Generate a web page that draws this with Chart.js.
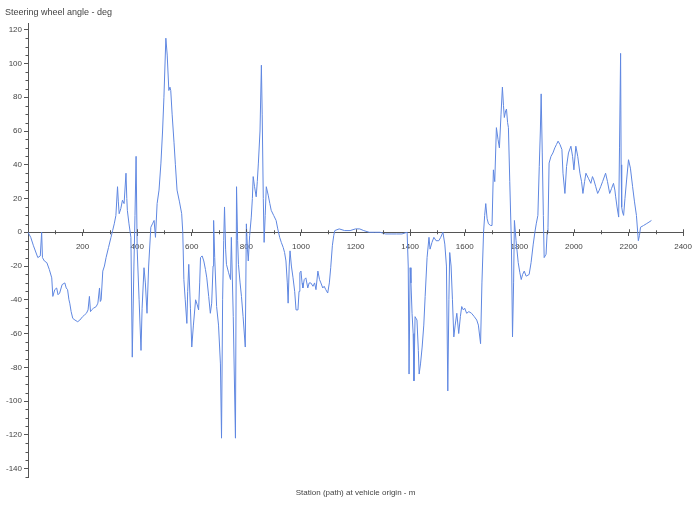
<!DOCTYPE html>
<html>
<head>
<meta charset="utf-8">
<script src="https://cdn.jsdelivr.net/npm/chart.js@4/dist/chart.umd.min.js"></script>
<style>
  html, body { margin: 0; padding: 0; background: #fff; }
  #wrap { width: 699px; height: 506px; position: relative; }
</style>
</head>
<body>
<div id="wrap"><canvas id="c"></canvas></div>
<script>
// Station (m)
const stations = [
0,10,20,36,45,50,53,60,69,78,87,91,98,105,110,116,125,135,140,145,150,153,158,164,172,182,190,200,207,214,220,225,229,233,240,250,256,262,265,268,274,280,286,295,304,310,316,322,328,331,334,340,346,352,359,362,364,370,377,382,388,392,396,400,407,414,418,425,430,436,442,450,456,462,467,473,480,487,493,498,505,510,516,520,523,528,535,540,546,555,563,567,571,576,582,585,589,595,600,606,614,620,625,629,632,638,644,650,655,662,668,673,678,680,684,691,698,705,709,713,717,720,724,727,735,742,745,752,760,764,768,771,777,782,788,796,800,804,807,812,818,822,825,830,836,840,844,850,855,858,862,865,869,873,880,886,891,900,909,915,922,928,935,940,945,950,953,957,960,965,971,977,982,989,993,996,1000,1004,1007,1012,1018,1025,1030,1036,1044,1050,1055,1062,1068,1073,1080,1085,1091,1098,1104,1109,1115,1120,1124,1140,1160,1180,1200,1215,1230,1250,1270,1290,1310,1330,1350,1370,1389,1393,1396,1400,1403,1407,1411,1414,1418,1425,1430,1433,1438,1444,1450,1455,1462,1469,1473,1480,1487,1495,1505,1512,1520,1527,1533,1538,1542,1545,1550,1555,1560,1565,1571,1578,1584,1589,1595,1600,1607,1615,1625,1635,1644,1650,1658,1663,1669,1673,1677,1682,1687,1695,1700,1705,1710,1716,1722,1727,1733,1738,1742,1745,1750,1753,1757,1760,1765,1771,1775,1779,1782,1788,1796,1802,1807,1812,1818,1825,1836,1843,1851,1857,1862,1868,1873,1877,1880,1884,1888,1891,1898,1902,1905,1909,1916,1923,1930,1936,1942,1949,1956,1960,1967,1973,1980,1989,1995,2000,2007,2014,2022,2028,2033,2039,2044,2053,2062,2068,2073,2080,2087,2093,2098,2105,2116,2123,2131,2138,2145,2150,2153,2158,2164,2167,2171,2173,2175,2178,2182,2187,2193,2200,2207,2215,2222,2229,2236,2240,2244,2255,2265,2275,2284
];
// Steering wheel angle (deg)
const angles = [
0,-3,-8,-15,-14,0,-15,-17,-18,-22,-27,-38,-34,-33,-37,-36,-31,-30,-33,-34,-40,-42,-47,-51,-52,-53,-52,-50,-49,-48,-46,-38,-47,-46,-45,-44,-42,-33,-41,-40,-23,-20,-15,-9,-3,1,5,10,27,18,11,14,19,17,35,20,13,5,-3,-74,-20,10,45,-10,-40,-70,-45,-21,-30,-48,-20,3,5,7,-3,17,25,41,60,80,115,105,84,86,84,70,53,40,25,18,11,0,-28,-40,-54,-35,-19,-45,-68,-55,-40,-43,-46,-30,-15,-14,-17,-22,-27,-38,-48,-42,-20,7,-15,-44,-55,-78,-122,-40,-5,15,-10,-19,-24,-28,-3,-50,-122,27,-5,-19,-30,-38,-50,-68,5,-10,-17,-2,9,20,33,27,21,30,41,60,99,70,20,-6,10,27,22,17,13,10,7,2,-3,-6,-9,-12,-17,-30,-42,-20,-11,-20,-27,-35,-46,-46,-35,-24,-23,-30,-33,-28,-27,-33,-30,-30,-32,-30,-34,-23,-28,-30,-33,-32,-34,-36,-30,-21,-8,-2,1,2,1,1,2,2,1,0,0,0,-1,-1,-1,-1,0,-20,-84,-21,-30,-48,-60,-88,-50,-52,-70,-84,-78,-68,-55,-38,-15,-3,-10,-6,-3,-5,-5,-3,0,-7,-20,-94,-40,-12,-20,-40,-62,-55,-48,-60,-50,-44,-46,-45,-48,-47,-48,-50,-52,-55,-66,-30,0,10,17,8,5,4,4,37,30,62,55,50,70,86,75,68,72,73,65,62,30,-7,-62,-30,7,-5,-18,-24,-28,-25,-23,-26,-25,-18,-7,0,5,10,39,60,82,47,10,-15,-13,0,3,41,45,47,50,52,54,52,49,35,23,39,47,51,45,37,51,45,35,30,23,30,35,32,29,33,31,27,23,25,27,30,35,30,23,26,29,25,21,15,9,50,106,40,15,12,10,20,31,43,38,27,18,10,-5,-2,3,4,5,6,7
];
// Tick values
const xTicks = [200,400,600,800,1000,1200,1400,1600,1800,2000,2200,2400];
const yTicks = [-140,-120,-100,-80,-60,-40,-20,0,20,40,60,80,100,120];
const xMinorTicks = [100,300,500,700,900,1100,1300,1500,1700,1900,2100,2300];
const yMinorTicks = [];
for (let v = -145; v <= 120; v += 5) { if (v % 20 !== 0) yMinorTicks.push(v); }

const yTitle = 'Steering wheel angle - deg';
const xTitle = 'Station (path) at vehicle origin - m';

const axisColor = '#555';
const textColor = '#444';
const fontFamily = "'Liberation Sans', Arial, sans-serif";

const points = stations.map((s, i) => ({ x: s, y: angles[i] }));

const extras = {
  id: 'extras',
  afterDraw(chart) {
    const ctx = chart.ctx;
    const xs = chart.scales.x, ys = chart.scales.y;
    const x0 = xs.getPixelForValue(0);
    const y0 = ys.getPixelForValue(0);
    ctx.save();
    ctx.strokeStyle = axisColor;
    ctx.lineWidth = 1;
    ctx.beginPath();
    yMinorTicks.forEach(v => {
      const p = Math.round(ys.getPixelForValue(v)) + 0.5;
      ctx.moveTo(x0 - 2.5, p); ctx.lineTo(x0, p);
    });
    xMinorTicks.forEach(v => {
      const p = Math.round(xs.getPixelForValue(v)) + 0.5;
      ctx.moveTo(p, y0 - 2); ctx.lineTo(p, y0 + 2);
    });
    xTicks.forEach(v => {
      const p = Math.round(xs.getPixelForValue(v)) + 0.5;
      ctx.moveTo(p, y0 - 3); ctx.lineTo(p, y0);
    });
    ctx.stroke();
    ctx.fillStyle = textColor;
    ctx.font = '9px ' + fontFamily;
    ctx.textBaseline = 'middle';
    ctx.textAlign = 'left';
    ctx.fillText(yTitle, 5, 13);
    ctx.font = '8px ' + fontFamily;
    ctx.textAlign = 'center';
    ctx.fillText(xTitle, (chart.chartArea.left + chart.chartArea.right) / 2, 493);
    ctx.restore();
  }
};

new Chart(document.getElementById('c'), {
  type: 'line',
  data: {
    datasets: [{
      data: points,
      borderColor: 'rgb(95,135,225)',
      borderWidth: 1,
      pointRadius: 0,
      tension: 0,
      fill: false
    }]
  },
  options: {
    responsive: true,
    maintainAspectRatio: false,
    devicePixelRatio: 1,
    animation: false,
    layout: { padding: { left: 6, right: 11, top: 23, bottom: 29 } },
    plugins: { legend: { display: false }, tooltip: { enabled: false }, title: { display: false } },
    scales: {
      x: {
        type: 'linear',
        position: { y: 0 },
        min: 0, max: 2400,
        afterBuildTicks: s => { s.ticks = xTicks.map(v => ({ value: v })); },
        grid: { display: true, drawOnChartArea: false, drawTicks: true, tickLength: 3, color: axisColor },
        border: { display: true, color: axisColor, width: 1 },
        ticks: {
          color: textColor, font: { size: 8, family: fontFamily }, padding: 7, maxRotation: 0, autoSkip: false,
          callback: v => String(v)
        }
      },
      y: {
        type: 'linear',
        position: 'left',
        min: -145, max: 124,
        afterBuildTicks: s => { s.ticks = yTicks.map(v => ({ value: v })); },
        afterFit: s => { s.width = 22; },
        grid: { display: true, drawOnChartArea: false, drawTicks: true, tickLength: 4, color: axisColor },
        border: { display: true, color: axisColor, width: 1 },
        ticks: {
          color: textColor, font: { size: 8, family: fontFamily }, padding: 2, autoSkip: false,
          callback: v => String(v)
        }
      }
    }
  },
  plugins: [extras]
});
</script>
</body>
</html>
